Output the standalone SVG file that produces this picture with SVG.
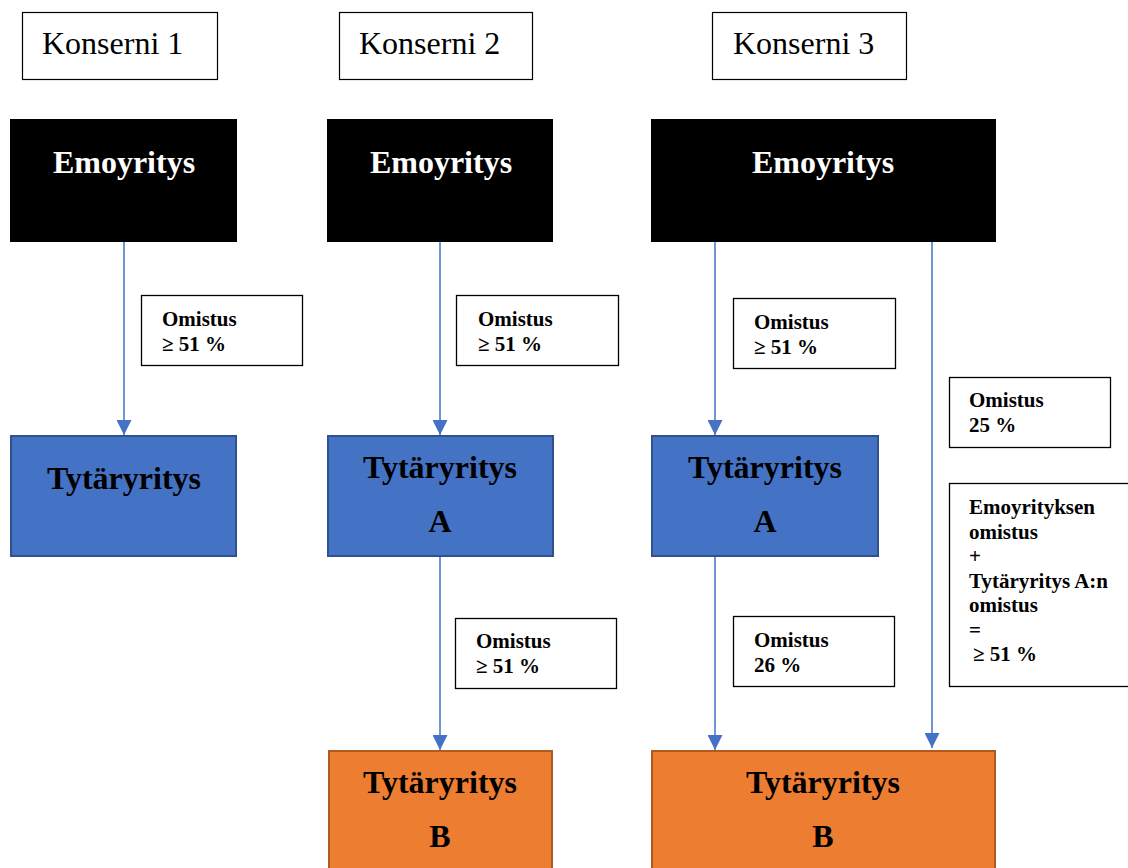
<svg xmlns="http://www.w3.org/2000/svg" width="1128" height="868" viewBox="0 0 1128 868">
<style>
.bg{fill:#fff}
.title{fill:#fff;stroke:#000;stroke-width:1.2}
.tt{font-family:"Liberation Serif","Times New Roman",serif;font-size:32px;fill:#000}
.emo{fill:#000}
.et{font-family:"Liberation Serif","Times New Roman",serif;font-size:32px;font-weight:bold;fill:#fff;text-anchor:middle}
.blue{fill:#4472C4;stroke:#2F528F;stroke-width:2}
.orange{fill:#ED7D31;stroke:#AE5A21;stroke-width:2}
.nt{font-family:"Liberation Serif","Times New Roman",serif;font-size:32px;font-weight:bold;fill:#000;text-anchor:middle}
.lab{fill:#fff;stroke:#000;stroke-width:1.3}
.lt{font-family:"Liberation Serif","Times New Roman",serif;font-size:21px;font-weight:bold;fill:#000}
.conn{stroke:#4472C4;stroke-width:1.5;fill:none;marker-end:url(#arr)}
</style>
<defs>
<marker id="arr" viewBox="0 0 10 10" refX="10" refY="5" markerUnits="userSpaceOnUse" markerWidth="16" markerHeight="15" orient="auto">
<path d="M0,0 L10,5 L0,10 z" fill="#4472C4"/>
</marker>
</defs>
<rect class="bg" x="0" y="0" width="1128" height="868"/>

<g id="connectors">
<line class="conn" x1="124" y1="242" x2="124" y2="435"/>
<line class="conn" x1="440" y1="242" x2="440" y2="435"/>
<line class="conn" x1="440" y1="557" x2="440" y2="750"/>
<line class="conn" x1="715" y1="242" x2="715" y2="435"/>
<line class="conn" x1="715" y1="557" x2="715" y2="750"/>
<line class="conn" x1="932" y1="242" x2="932" y2="748"/>
</g>

<g id="konserni1"><rect class="title" x="22.5" y="12.5" width="195" height="67"/><text class="tt" x="42" y="54">Konserni 1</text></g>
<g id="konserni2"><rect class="title" x="339.5" y="12.5" width="193" height="67"/><text class="tt" x="359" y="54">Konserni 2</text></g>
<g id="konserni3"><rect class="title" x="712.5" y="12.5" width="194" height="67"/><text class="tt" x="733" y="54">Konserni 3</text></g>

<g id="emo1"><rect class="emo" x="10" y="119" width="227" height="123"/><text class="et" x="124" y="173">Emoyritys</text></g>
<g id="emo2"><rect class="emo" x="327" y="119" width="226" height="123"/><text class="et" x="441" y="173">Emoyritys</text></g>
<g id="emo3"><rect class="emo" x="651" y="119" width="345" height="123"/><text class="et" x="823" y="173">Emoyritys</text></g>

<g id="tyt1"><rect class="blue" x="11" y="436" width="225" height="120"/><text class="nt" x="124" y="489">Tytäryritys</text></g>
<g id="tyt2a"><rect class="blue" x="328" y="436" width="225" height="120"/><text class="nt" x="440" y="478">Tytäryritys</text><text class="nt" x="440" y="532">A</text></g>
<g id="tyt3a"><rect class="blue" x="652" y="436" width="226" height="120"/><text class="nt" x="765" y="478">Tytäryritys</text><text class="nt" x="765" y="532">A</text></g>

<g id="tyt2b"><rect class="orange" x="329" y="751" width="223" height="130"/><text class="nt" x="440" y="793">Tytäryritys</text><text class="nt" x="440" y="847">B</text></g>
<g id="tyt3b"><rect class="orange" x="652" y="751" width="343" height="130"/><text class="nt" x="823" y="793">Tytäryritys</text><text class="nt" x="823" y="847">B</text></g>

<g id="lab1"><rect class="lab" x="141.5" y="295.5" width="161" height="70"/><text class="lt" x="162" y="326">Omistus</text><text class="lt" x="162" y="351">≥ 51 %</text></g>
<g id="lab2"><rect class="lab" x="456.5" y="295.5" width="162" height="70"/><text class="lt" x="478" y="326">Omistus</text><text class="lt" x="478" y="351">≥ 51 %</text></g>
<g id="lab2b"><rect class="lab" x="455.5" y="618.5" width="161" height="70"/><text class="lt" x="476" y="648">Omistus</text><text class="lt" x="476" y="673">≥ 51 %</text></g>
<g id="lab3"><rect class="lab" x="733.5" y="298.5" width="162" height="70"/><text class="lt" x="754" y="329">Omistus</text><text class="lt" x="754" y="354">≥ 51 %</text></g>
<g id="lab3b"><rect class="lab" x="733.5" y="616.5" width="161" height="70"/><text class="lt" x="754" y="647">Omistus</text><text class="lt" x="754" y="672">26 %</text></g>
<g id="lab3c"><rect class="lab" x="949.5" y="377.5" width="161" height="70"/><text class="lt" x="969" y="407">Omistus</text><text class="lt" x="969" y="432">25 %</text></g>
<g id="lab3d"><rect class="lab" x="949.5" y="483.5" width="190" height="203"/>
<text class="lt" x="969" y="514">Emoyrityksen</text>
<text class="lt" x="969" y="538.5">omistus</text>
<text class="lt" x="969" y="563">+</text>
<text class="lt" x="969" y="587.5">Tytäryritys A:n</text>
<text class="lt" x="969" y="612">omistus</text>
<text class="lt" x="969" y="636.5">=</text>
<text class="lt" x="973" y="661">≥ 51 %</text>
</g>
</svg>
